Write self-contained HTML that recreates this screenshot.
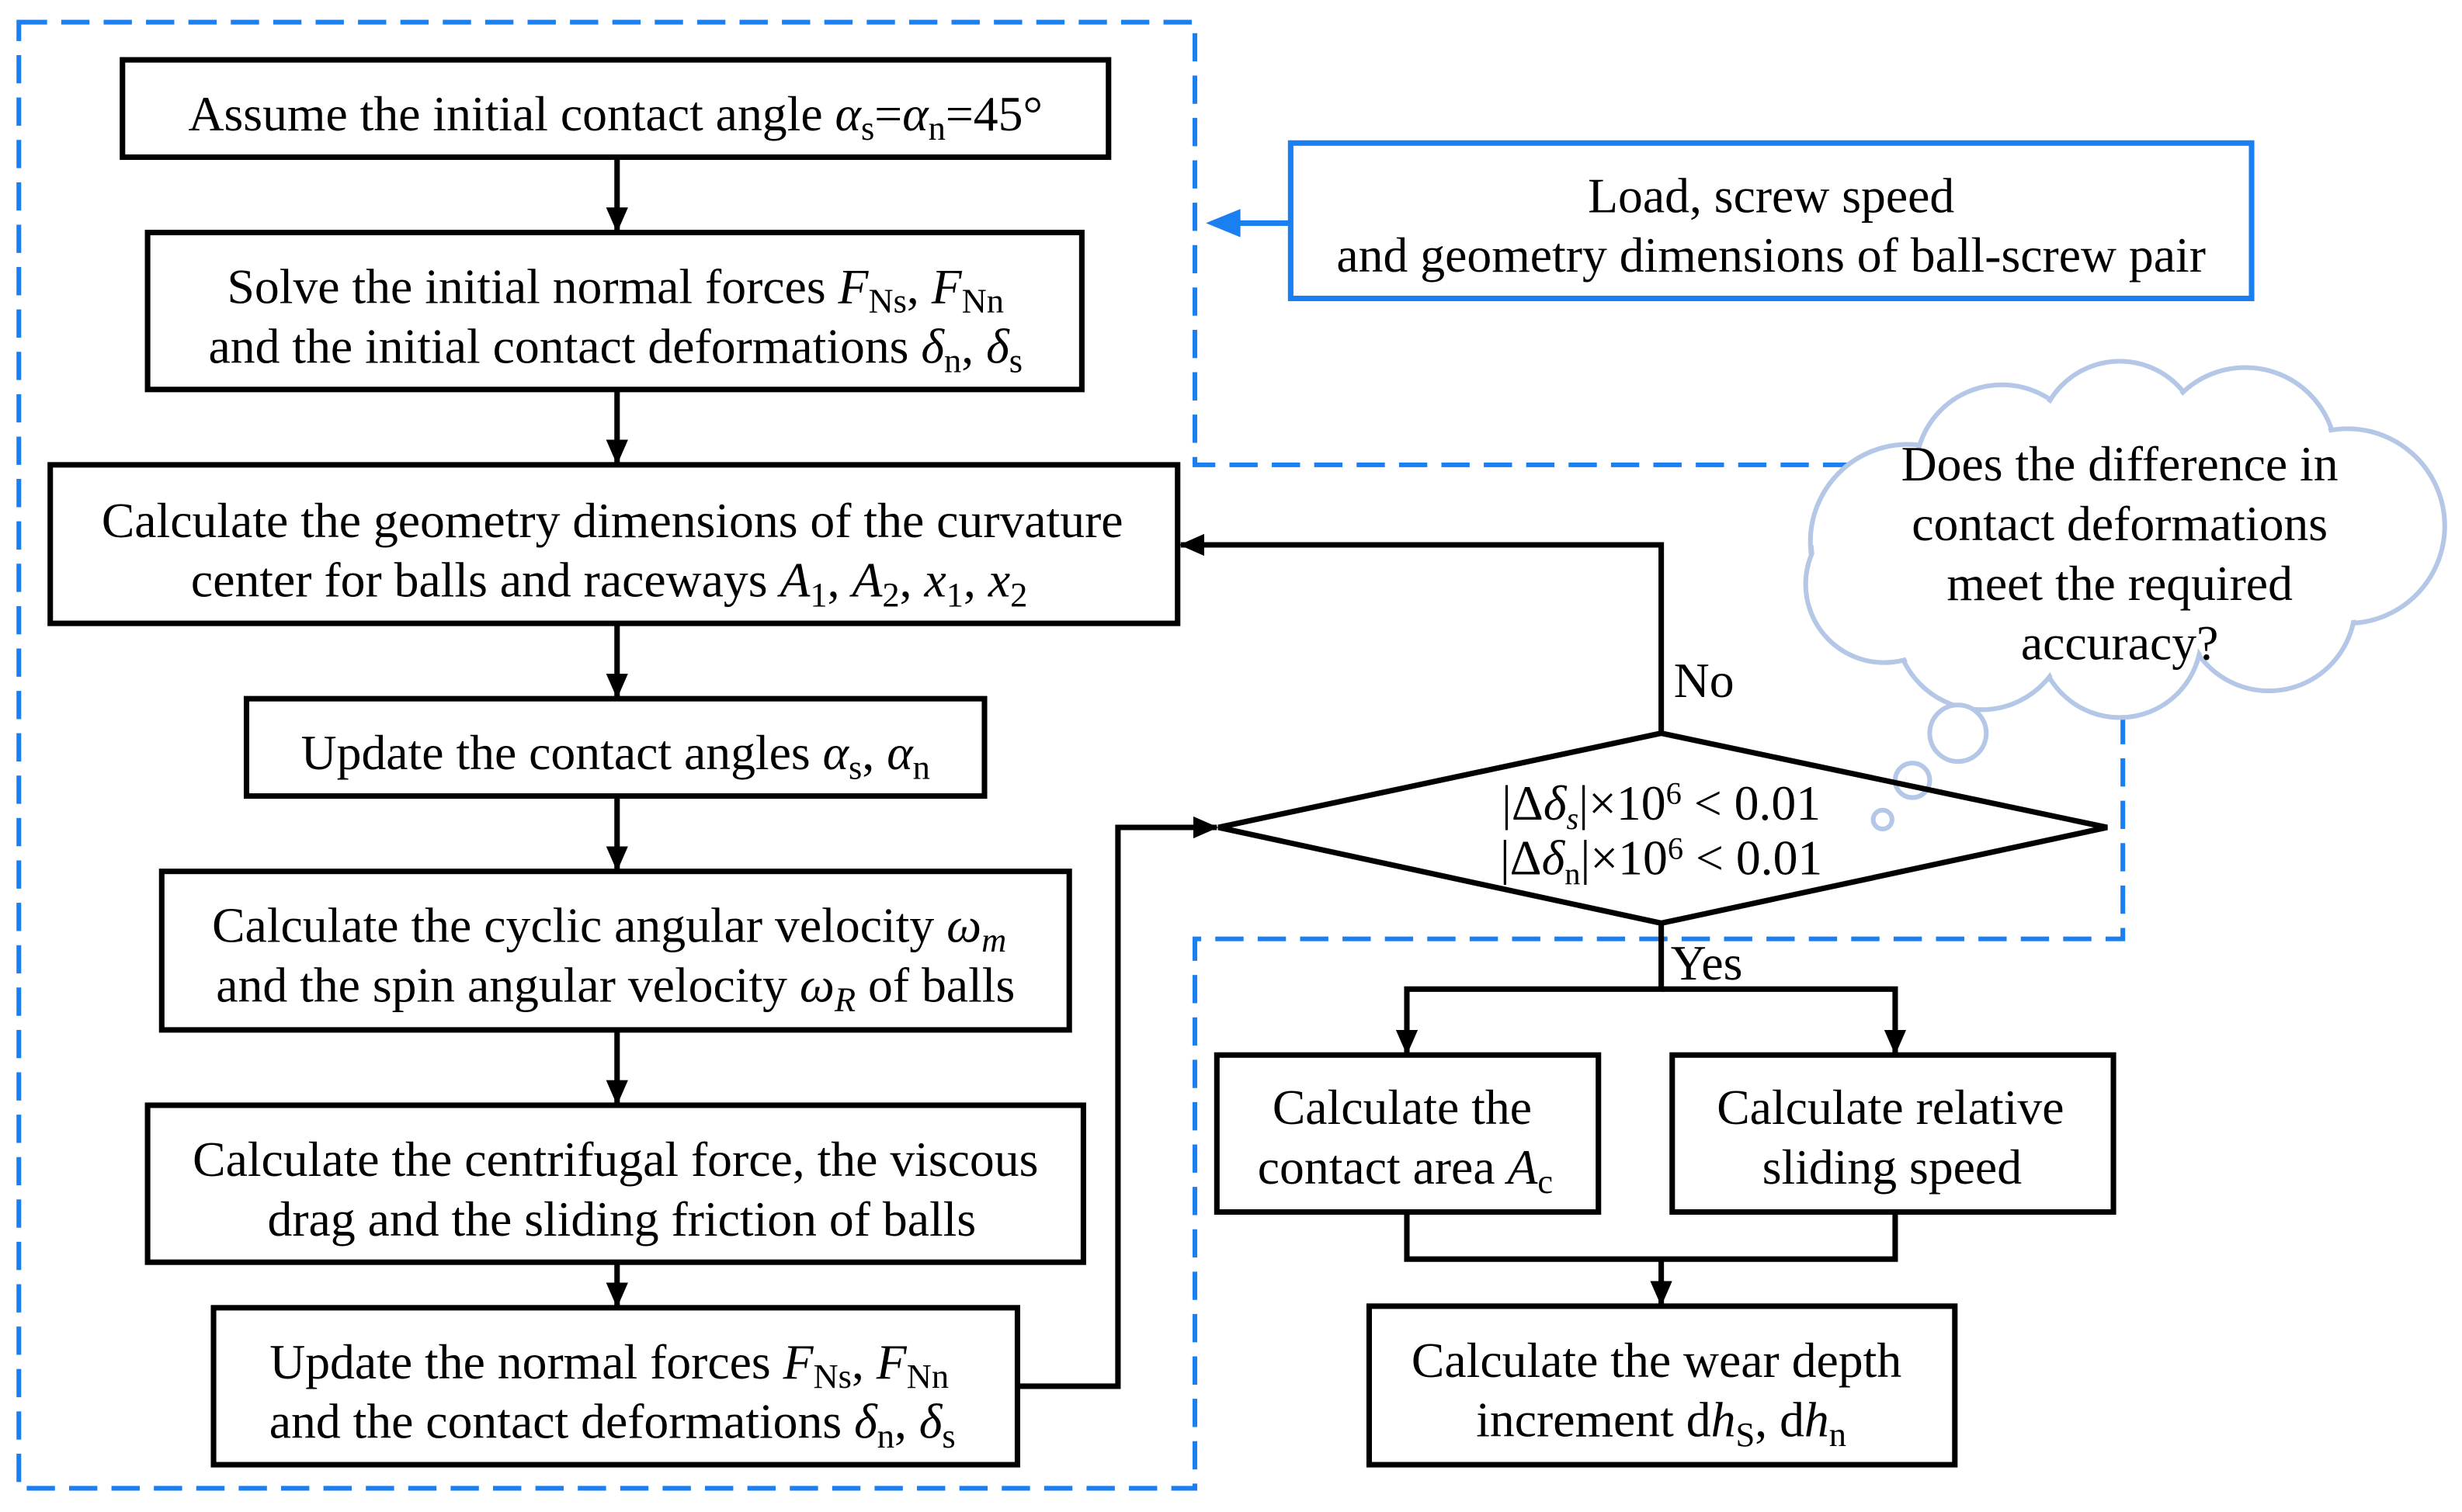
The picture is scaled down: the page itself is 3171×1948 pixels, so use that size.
<!DOCTYPE html>
<html><head><meta charset="utf-8"><style>
html,body{margin:0;padding:0;background:#fff;}
svg{display:block;}
text{font-family:"Liberation Serif",serif;font-size:31.5px;fill:#000;}
.i{font-style:italic;}
</style></head><body>
<svg width="3171" height="1948" viewBox="0 0 1568 963" xmlns="http://www.w3.org/2000/svg">
<defs>
<marker id="ah" markerWidth="16" markerHeight="16" refX="15" refY="7" orient="auto" markerUnits="userSpaceOnUse" viewBox="0 0 16 14"><path d="M0,0 L16,7 L0,14 z" fill="#000"/></marker>
</defs>
<path d="M12,14 H761 V296 H1352 V598 H761 V948 H12 Z" fill="none" stroke="#1a7ff0" stroke-width="3" stroke-dasharray="18,9"/>

<g stroke="#b4c7e7" stroke-width="3" fill="#fff">
<circle cx="1215" cy="345" r="62"/><circle cx="1275" cy="300" r="55"/><circle cx="1350" cy="282" r="52"/>
<circle cx="1430" cy="292" r="58"/><circle cx="1495" cy="335" r="62"/><circle cx="1445" cy="385" r="55"/>
<circle cx="1350" cy="405" r="52"/><circle cx="1262" cy="397" r="55"/><circle cx="1200" cy="372" r="50"/>
</g>
<g fill="#fff">
<circle cx="1215" cy="345" r="60"/><circle cx="1275" cy="300" r="53"/><circle cx="1350" cy="282" r="50"/>
<circle cx="1430" cy="292" r="56"/><circle cx="1495" cy="335" r="60"/><circle cx="1445" cy="385" r="53"/>
<circle cx="1350" cy="405" r="50"/><circle cx="1262" cy="397" r="53"/><circle cx="1200" cy="372" r="48"/>
<rect x="1230" y="290" width="230" height="110"/>
</g>
<g stroke="#b4c7e7" stroke-width="3" fill="#fff">
<circle cx="1247" cy="467" r="18"/><circle cx="1218" cy="497" r="11"/><circle cx="1199" cy="522" r="6"/>
</g>
<g text-anchor="middle">
<text x="1350" y="306">Does the difference in</text>
<text x="1350" y="344">contact deformations</text>
<text x="1350" y="382">meet the required</text>
<text x="1350" y="420">accuracy?</text>
</g>

<g fill="none" stroke="#000" stroke-width="3.5">
<rect x="78" y="38" width="628" height="62"/>
<rect x="94" y="148" width="595" height="100"/>
<rect x="32" y="296" width="718" height="101"/>
<rect x="157" y="445" width="470" height="62"/>
<rect x="103" y="555" width="578" height="101"/>
<rect x="94" y="704" width="596" height="100"/>
<rect x="136" y="833" width="512" height="100"/>
<rect x="775" y="672" width="243" height="100"/>
<rect x="1065" y="672" width="281" height="100"/>
<rect x="872" y="832" width="373" height="101"/>
<path d="M776,527 L1058,467 L1342,527 L1058,588 Z"/>
</g>
<rect x="822" y="91" width="612" height="99" fill="none" stroke="#1a7ff0" stroke-width="3.5"/>
<line x1="822" y1="142" x2="775" y2="142" stroke="#1a7ff0" stroke-width="3.5"/>
<path d="M768,142 L790,133 L790,151 Z" fill="#1a7ff0"/>

<g stroke="#000" stroke-width="3.5" fill="none" marker-end="url(#ah)">
<line x1="393" y1="100" x2="393" y2="147"/>
<line x1="393" y1="248" x2="393" y2="295"/>
<line x1="393" y1="397" x2="393" y2="444"/>
<line x1="393" y1="507" x2="393" y2="554"/>
<line x1="393" y1="656" x2="393" y2="703"/>
<line x1="393" y1="804" x2="393" y2="832"/>
<path d="M1058,467 V347 H752"/>
<path d="M648,883 H712 V527 H775"/>
<path d="M1058,588 V630 H896 V671"/>
<path d="M1058,630 H1207 V671"/>
<line x1="1058" y1="802" x2="1058" y2="831"/>
</g>
<path d="M896,772 V802 H1207 V772" fill="none" stroke="#000" stroke-width="3.5"/>

<text x="1066" y="444">No</text>
<text x="1064" y="624">Yes</text>

<g text-anchor="middle">
<text x="392" y="83">Assume the initial contact angle <tspan class="i">α</tspan><tspan font-size="22" dy="6">s</tspan><tspan dy="-6">=</tspan><tspan class="i">α</tspan><tspan font-size="22" dy="6">n</tspan><tspan dy="-6">=45°</tspan></text>
<text x="392" y="193">Solve the initial normal forces <tspan class="i">F</tspan><tspan font-size="22" dy="6">Ns</tspan><tspan dy="-6">, </tspan><tspan class="i">F</tspan><tspan font-size="22" dy="6">Nn</tspan></text>
<text x="392" y="231">and the initial contact deformations <tspan class="i">δ</tspan><tspan font-size="22" dy="6">n</tspan><tspan dy="-6">, </tspan><tspan class="i">δ</tspan><tspan font-size="22" dy="6">s</tspan></text>
<text x="390" y="342">Calculate the geometry dimensions of the curvature</text>
<text x="388" y="380">center for balls and raceways <tspan class="i">A</tspan><tspan font-size="22" dy="6">1</tspan><tspan dy="-6">,  </tspan><tspan class="i">A</tspan><tspan font-size="22" dy="6">2</tspan><tspan dy="-6">, </tspan><tspan class="i">x</tspan><tspan font-size="22" dy="6">1</tspan><tspan dy="-6">, </tspan><tspan class="i">x</tspan><tspan font-size="22" dy="6">2</tspan></text>
<text x="392" y="490">Update the contact angles <tspan class="i">α</tspan><tspan font-size="22" dy="6">s</tspan><tspan dy="-6">, </tspan><tspan class="i">α</tspan><tspan font-size="22" dy="6">n</tspan></text>
<text x="388" y="600">Calculate the cyclic angular velocity <tspan class="i">ω</tspan><tspan font-size="22" dy="6" class="i">m</tspan></text>
<text x="392" y="638">and the spin angular velocity <tspan class="i">ω</tspan><tspan font-size="22" dy="6" class="i">R</tspan><tspan dy="-6"> of balls</tspan></text>
<text x="392" y="749">Calculate the centrifugal force, the viscous</text>
<text x="396" y="787">drag and the sliding friction of balls</text>
<text x="388" y="878">Update the normal forces <tspan class="i">F</tspan><tspan font-size="22" dy="6">Ns</tspan><tspan dy="-6">, </tspan><tspan class="i">F</tspan><tspan font-size="22" dy="6">Nn</tspan></text>
<text x="390" y="916">and the contact deformations <tspan class="i">δ</tspan><tspan font-size="22" dy="6">n</tspan><tspan dy="-6">, </tspan><tspan class="i">δ</tspan><tspan font-size="22" dy="6">s</tspan></text>
<text x="1128" y="135">Load, screw speed</text>
<text x="1128" y="173">and geometry dimensions of ball-screw pair</text>
<text x="1058" y="522" font-size="28">|Δ<tspan class="i">δ</tspan><tspan font-size="20" dy="6" class="i">s</tspan><tspan dy="-6">|×10</tspan><tspan font-size="20" dy="-10">6</tspan><tspan dy="10"> &lt; 0.01</tspan></text>
<text x="1058" y="557" font-size="28">|Δ<tspan class="i">δ</tspan><tspan font-size="20" dy="6">n</tspan><tspan dy="-6">|×10</tspan><tspan font-size="20" dy="-10">6</tspan><tspan dy="10"> &lt; 0.01</tspan></text>
<text x="893" y="716">Calculate the</text>
<text x="895" y="754">contact area <tspan class="i">A</tspan><tspan font-size="22" dy="6">c</tspan></text>
<text x="1204" y="716">Calculate relative</text>
<text x="1205" y="754">sliding speed</text>
<text x="1055" y="877">Calculate the wear depth</text>
<text x="1058" y="915">increment d<tspan class="i">h</tspan><tspan font-size="22" dy="6">S</tspan><tspan dy="-6">, d</tspan><tspan class="i">h</tspan><tspan font-size="22" dy="6">n</tspan></text>
</g>
</svg>
</body></html>
